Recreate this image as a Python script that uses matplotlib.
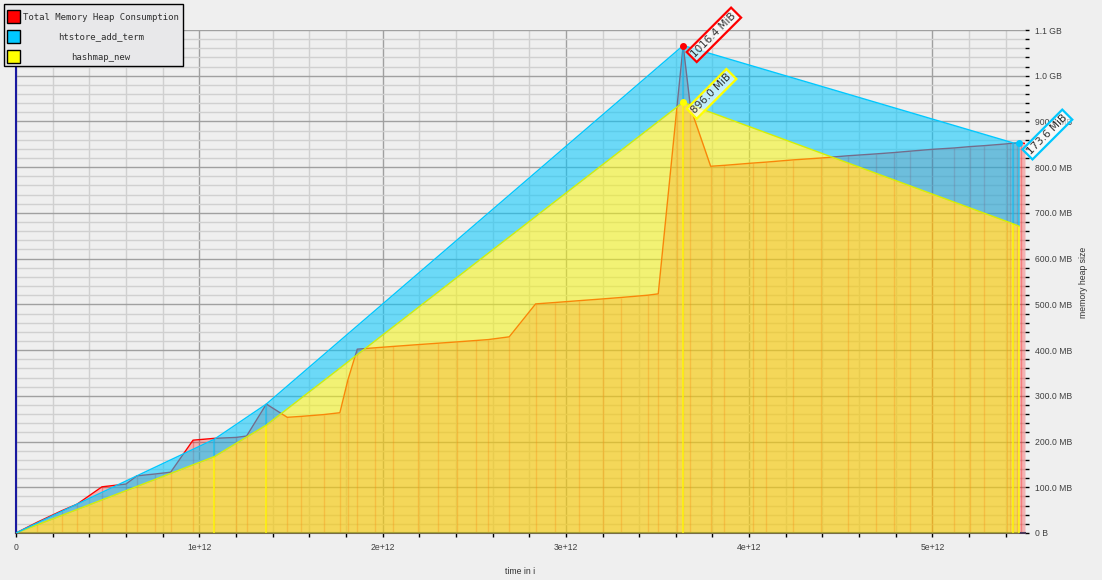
import matplotlib
matplotlib.use("Agg")
import matplotlib.pyplot as plt
from matplotlib import font_manager
from matplotlib.patches import Rectangle
from matplotlib.ticker import FixedLocator, FixedFormatter, MultipleLocator
import numpy as np

# --- data (time in units of 1e12 i, memory in MB) ---
total_t = [0.000, 0.113, 0.251, 0.333, 0.469, 0.600, 0.660, 0.758, 0.844, 0.966,
           1.082, 1.200, 1.258, 1.366, 1.480, 1.555, 1.680, 1.767, 1.811, 1.862,
           1.959, 2.058, 2.195, 2.301, 2.408, 2.510, 2.577, 2.691, 2.835, 2.939,
           3.070, 3.204, 3.299, 3.446, 3.504, 3.604, 3.640, 3.680, 3.790, 3.864,
           4.019, 4.090, 4.241, 4.390, 4.541, 4.690, 4.792, 4.877, 4.999, 5.119,
           5.205, 5.281, 5.405, 5.423, 5.441, 5.463, 5.483, 5.505]
total_mb = [0, 23, 49, 63, 101, 107, 125, 129, 133, 203,
            207, 209, 212, 282, 253, 255, 259, 263, 335, 402,
            405, 408, 412, 415, 418, 421, 423, 429, 501, 504,
            508, 512, 515, 520, 523, 923, 1066, 930, 802, 804,
            809, 811, 816, 820, 825, 829, 832, 835, 839, 842,
            845, 847, 851, 852, 852, 853, 853, 852]

snap_t = [0.000, 1.082, 1.366, 3.640, 5.441, 5.472]
hashmap_new = [0, 167, 236, 942, 676, 671]
htstore_add_term = [0, 38, 46, 124, 177, 182]

series_names = ["Total Memory Heap Consumption", "htstore_add_term", "hashmap_new"]
series_colors = ["#ff0000", "#00c8ff", "#ffff00"]
fill_colors = ["#ff0000", "#00c8ff", "#f5f510"]
peak_labels = ["1016.4 MiB", "173.6 MiB", "896.0 MiB"]

x_ticks = [0, 1, 2, 3, 4, 5]
x_ticklabels = ["0", "1e+12", "2e+12", "3e+12", "4e+12", "5e+12"]
y_ticks = [0, 100, 200, 300, 400, 500, 600, 700, 800, 900, 1000, 1100]
y_ticklabels = ["0 B", "100.0 MB", "200.0 MB", "300.0 MB", "400.0 MB", "500.0 MB",
                "600.0 MB", "700.0 MB", "800.0 MB", "900.0 MB", "1.0 GB", "1.1 GB"]

# narrow sans for axis text if available
names = {f.name for f in font_manager.fontManager.ttflist}
narrow = "Liberation Sans Narrow" if "Liberation Sans Narrow" in names else "Liberation Sans"
axis_fs = 7 if narrow == "Liberation Sans Narrow" else 6.2

W, H = 1102, 580
BG = "#efefef"
fig = plt.figure(figsize=(W / 100, H / 100), dpi=100, facecolor=BG)
ax = fig.add_axes([16 / W, 47 / H, 1009 / W, 503 / H])
ax.set_facecolor(BG)

tt = np.array(total_t)
ty = np.array(total_mb)
st = np.array(snap_t)
yel = np.array(hashmap_new)
top = yel + np.array(htstore_add_term)

# total consumption (drawn first, under the stacked detail)
ax.fill_between(tt, 0, ty, color=fill_colors[0], alpha=0.25, lw=0, zorder=2)
ax.vlines(tt[1:-1], 0, ty[1:-1], color=fill_colors[0], alpha=0.3, lw=1, zorder=2.05)
ax.plot(tt, ty, color=series_colors[0], lw=1, zorder=2.1)

# stacked detailed snapshots
ax.fill_between(st, 0, yel, color=fill_colors[2], alpha=0.55, lw=0, zorder=3)
ax.fill_between(st, yel, top, color=fill_colors[1], alpha=0.55, lw=0, zorder=3)
ax.vlines(st[1:], 0, yel[1:], color=series_colors[2], alpha=0.8, lw=1.2, zorder=3.1)
ax.vlines(st[1:], yel[1:], top[1:], color=series_colors[1], alpha=0.6, lw=1.2, zorder=3.1)
ax.plot(st, yel, color="#d8f000", lw=1, zorder=3.2)
ax.plot(st, top, color=series_colors[1], lw=1, zorder=3.2)

# peak markers and labels
i_tot = int(np.argmax(ty))
i_yel = int(np.argmax(yel))
i_cy = int(np.argmax(htstore_add_term))
peaks = [(tt[i_tot], ty[i_tot]), (st[i_cy], top[i_cy]), (st[i_yel], yel[i_yel])]
for k, (px_, py_) in enumerate(peaks):
    ax.plot(px_, py_, "o", color=series_colors[k], ms=4, zorder=7, clip_on=False)
    ax.annotate(peak_labels[k], xy=(px_, py_), xytext=(10, -10), textcoords="offset pixels",
                rotation=45, rotation_mode="anchor", ha="left", va="center",
                fontsize=7.5, color="#303030", zorder=8, annotation_clip=False,
                bbox=dict(boxstyle="square,pad=0.2", fc=(1, 1, 1, 0.6),
                          ec=series_colors[k], lw=1.6))

# axes, grid, ticks
ax.set_xlim(0, 5.505)
ax.set_ylim(0, 1100)
ax.xaxis.set_major_locator(FixedLocator(x_ticks))
ax.xaxis.set_major_formatter(FixedFormatter(x_ticklabels))
ax.xaxis.set_minor_locator(MultipleLocator(0.2))
ax.yaxis.set_major_locator(FixedLocator(y_ticks))
ax.yaxis.set_major_formatter(FixedFormatter(y_ticklabels))
ax.yaxis.set_minor_locator(MultipleLocator(20))
ax.yaxis.tick_right()
ax.set_axisbelow(True)
ax.grid(which="major", color="#a0a0a0", lw=1, zorder=0)
ax.grid(which="minor", color="#d0d0d0", lw=1, zorder=0)
ax.tick_params(axis="both", which="both", direction="out", length=3, width=1,
               color="black", labelsize=axis_fs, labelcolor="#404040", pad=4)
for lbl in ax.get_xticklabels() + ax.get_yticklabels():
    lbl.set_family(narrow)

for s in ("top", "right"):
    ax.spines[s].set_visible(False)
ax.spines["left"].set_color("#1a1aa0")
ax.spines["left"].set_linewidth(1.5)
ax.spines["bottom"].set_color("#4a3a5a")
ax.spines["bottom"].set_linewidth(1.5)

fig.text(520 / W, 1 - 571 / H, "time in i", ha="center", va="center",
         fontsize=axis_fs, color="#303030", family=narrow)
fig.text(1083 / W, 1 - 282 / H, "memory heap size", ha="center", va="center",
         rotation=90, fontsize=axis_fs, color="#303030", family=narrow)

# legend box drawn by hand, like the original tool
fig.add_artist(Rectangle((4 / W, 1 - 66 / H), 179 / W, 62 / H, transform=fig.transFigure,
                         fc="#e8e8ea", ec="black", lw=1, zorder=20))
sw_y = [10, 30, 50]
for k, name in enumerate(series_names):
    fig.add_artist(Rectangle((7 / W, 1 - (sw_y[k] + 13) / H), 13 / W, 13 / H,
                             transform=fig.transFigure, fc=series_colors[k],
                             ec="black", lw=1, zorder=21))
    if k == 0:
        fig.text(23 / W, 1 - (sw_y[k] + 7) / H, name, ha="left", va="center",
                 fontsize=6.5, family="DejaVu Sans Mono", color="#303030", zorder=22)
    else:
        fig.text(101 / W, 1 - (sw_y[k] + 7) / H, name, ha="center", va="center",
                 fontsize=6.5, family="DejaVu Sans Mono", color="#303030", zorder=22)

fig.savefig("out.png", dpi=100, facecolor=BG)
